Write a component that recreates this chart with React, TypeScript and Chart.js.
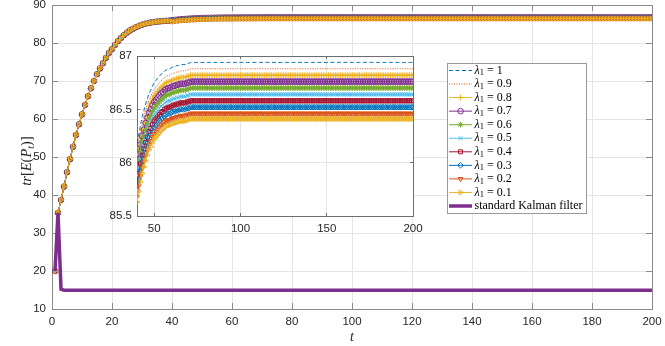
import React, { useEffect, useRef } from 'react';
import { Chart, registerables } from 'chart.js';
import { drawPoint } from 'chart.js/helpers';

Chart.register(...registerables);

// ---------------- data ----------------
const T: number[] = Array.from({ length: 200 }, (_, i) => i + 1);

const LAMBDA_LABELS = ['1', '0.9', '0.8', '0.7', '0.6', '0.5', '0.4', '0.3', '0.2', '0.1'];

// t = 1..39 : all lambda curves coincide at this scale
const SHARED_EARLY = [
  20.0, 35.3, 38.7, 42.2, 46.0, 49.4, 52.7, 55.8, 58.6, 61.2,
  63.7, 66.0, 68.1, 70.0, 71.8, 73.3, 74.7, 76.1, 77.4, 78.4,
  79.5, 80.5, 81.35, 82.1, 82.75, 83.3, 83.75, 84.15, 84.5, 84.8,
  85.05, 85.25, 85.4, 85.52, 85.62, 85.7, 85.77, 85.83, 85.88,
];

// t = 40..70 for each lambda
const TAIL_L10 = [86.16, 86.26, 86.35, 86.43, 86.49, 86.55, 86.60, 86.65, 86.68, 86.72, 86.75, 86.77, 86.79, 86.81, 86.83, 86.84, 86.86, 86.87, 86.88, 86.88, 86.89, 86.90, 86.90, 86.91, 86.91, 86.92, 86.92, 86.92, 86.92, 86.93, 86.93];
const TAIL_L09 = [86.10, 86.20, 86.29, 86.37, 86.43, 86.49, 86.54, 86.59, 86.62, 86.66, 86.69, 86.71, 86.73, 86.75, 86.77, 86.78, 86.80, 86.81, 86.82, 86.82, 86.83, 86.84, 86.84, 86.85, 86.85, 86.86, 86.86, 86.86, 86.86, 86.87, 86.87];
const TAIL_L08 = [86.04, 86.14, 86.23, 86.31, 86.37, 86.43, 86.48, 86.53, 86.56, 86.60, 86.63, 86.65, 86.67, 86.69, 86.71, 86.72, 86.74, 86.75, 86.76, 86.76, 86.77, 86.78, 86.78, 86.79, 86.79, 86.80, 86.80, 86.80, 86.80, 86.81, 86.81];
const TAIL_L07 = [85.98, 86.08, 86.17, 86.25, 86.31, 86.37, 86.42, 86.47, 86.50, 86.54, 86.57, 86.59, 86.61, 86.63, 86.65, 86.66, 86.68, 86.69, 86.70, 86.70, 86.71, 86.72, 86.72, 86.73, 86.73, 86.74, 86.74, 86.74, 86.74, 86.75, 86.75];
const TAIL_L06 = [85.92, 86.02, 86.11, 86.19, 86.25, 86.31, 86.36, 86.41, 86.44, 86.48, 86.51, 86.53, 86.55, 86.57, 86.59, 86.60, 86.62, 86.63, 86.64, 86.64, 86.65, 86.66, 86.66, 86.67, 86.67, 86.68, 86.68, 86.68, 86.68, 86.69, 86.69];
const TAIL_L05 = [85.86, 85.96, 86.05, 86.13, 86.19, 86.25, 86.30, 86.35, 86.38, 86.42, 86.45, 86.47, 86.49, 86.51, 86.53, 86.54, 86.56, 86.57, 86.58, 86.58, 86.59, 86.60, 86.60, 86.61, 86.61, 86.62, 86.62, 86.62, 86.62, 86.63, 86.63];
const TAIL_L04 = [85.80, 85.90, 85.99, 86.07, 86.13, 86.19, 86.24, 86.29, 86.32, 86.36, 86.39, 86.41, 86.43, 86.45, 86.47, 86.48, 86.50, 86.51, 86.52, 86.52, 86.53, 86.54, 86.54, 86.55, 86.55, 86.56, 86.56, 86.56, 86.56, 86.57, 86.57];
const TAIL_L03 = [85.74, 85.84, 85.93, 86.01, 86.07, 86.13, 86.18, 86.23, 86.26, 86.30, 86.33, 86.35, 86.37, 86.39, 86.41, 86.42, 86.44, 86.45, 86.46, 86.46, 86.47, 86.48, 86.48, 86.49, 86.49, 86.50, 86.50, 86.50, 86.50, 86.51, 86.51];
const TAIL_L02 = [85.68, 85.78, 85.87, 85.95, 86.01, 86.07, 86.12, 86.17, 86.20, 86.24, 86.27, 86.29, 86.31, 86.33, 86.35, 86.36, 86.38, 86.39, 86.40, 86.40, 86.41, 86.42, 86.42, 86.43, 86.43, 86.44, 86.44, 86.44, 86.44, 86.45, 86.45];
const TAIL_L01 = [85.63, 85.73, 85.82, 85.90, 85.96, 86.02, 86.07, 86.12, 86.15, 86.19, 86.22, 86.24, 86.26, 86.28, 86.30, 86.31, 86.33, 86.34, 86.35, 86.35, 86.36, 86.37, 86.37, 86.38, 86.38, 86.39, 86.39, 86.39, 86.39, 86.40, 86.40];

// flat steady-state level (t = 71..200)
const STEADY = [86.94, 86.88, 86.82, 86.76, 86.70, 86.64, 86.58, 86.52, 86.46, 86.41];

const KALMAN_EARLY = [20.0, 35.3, 15.2];
const KALMAN_STEADY = 14.95;

const X_TICKS = [0, 20, 40, 60, 80, 100, 120, 140, 160, 180, 200];
const Y_TICKS = [10, 20, 30, 40, 50, 60, 70, 80, 90];
const INSET_X_TICKS = [50, 100, 150, 200];
const INSET_Y_TICKS = [85.5, 86, 86.5, 87];

// ---------------- styles ----------------
const TAILS = [TAIL_L10, TAIL_L09, TAIL_L08, TAIL_L07, TAIL_L06, TAIL_L05, TAIL_L04, TAIL_L03, TAIL_L02, TAIL_L01];

type Sty = { color: string; dash?: number[]; point?: string; rot?: number };
const STYLES: Sty[] = [
  { color: '#0072BD', dash: [4, 2.5] },
  { color: '#D95319', dash: [1, 1.5] },
  { color: '#EDB120', point: 'cross' },
  { color: '#7E2F8E', point: 'circle' },
  { color: '#77AC30', point: 'star' },
  { color: '#4DBEEE', point: 'crossRot' },
  { color: '#A2142F', point: 'rect' },
  { color: '#0072BD', point: 'rectRot' },
  { color: '#D95319', point: 'triangle', rot: 180 },
  { color: '#EDB120', point: 'triangle', rot: 90 },
];
const KALMAN_COLOR = '#7E2F8E';
const POINT_R = 2.8;

const TICK_FONT = { family: 'Arial, "Liberation Sans", Helvetica, sans-serif', size: 11.5 };
const SERIF = '"Liberation Serif", "Times New Roman", serif';

function lambdaSeries(k: number) {
  const vals: number[] = [...SHARED_EARLY, ...TAILS[k]];
  while (vals.length < T.length) vals.push(STEADY[k]);
  return T.map((t, i) => ({ x: t, y: vals[i] }));
}
function kalmanSeries() {
  const vals: number[] = [...KALMAN_EARLY];
  while (vals.length < T.length) vals.push(KALMAN_STEADY);
  return T.map((t, i) => ({ x: t, y: vals[i] }));
}

function lambdaDatasets() {
  const out: any[] = [];
  for (let k = LAMBDA_LABELS.length - 1; k >= 0; k--) {
    const s = STYLES[k];
    out.push({
      label: 'lambda=' + LAMBDA_LABELS[k],
      data: lambdaSeries(k),
      borderColor: s.color,
      borderWidth: 1,
      borderDash: s.dash || [],
      pointStyle: s.point || false,
      pointRadius: s.point ? POINT_R : 0,
      pointRotation: s.rot || 0,
      pointBorderColor: s.color,
      pointBackgroundColor: 'rgba(0,0,0,0)',
      pointBorderWidth: 1,
      tension: 0,
      fill: false,
    });
  }
  return out;
}

const align = (p: number) => Math.round(p - 0.5) + 0.5;

const framePlugin = {
  id: 'frame',
  beforeDraw(chart: any, _a: any, opts: any) {
    if (opts && opts.bg) {
      const { ctx, chartArea: ca } = chart;
      ctx.save();
      ctx.fillStyle = opts.bg;
      ctx.fillRect(ca.left, ca.top, ca.right - ca.left, ca.bottom - ca.top);
      ctx.restore();
    }
  },
  beforeDatasetsDraw(chart: any, _a: any, opts: any) {
    const { ctx, chartArea: ca } = chart;
    const xs = chart.scales.x, ys = chart.scales.y;
    const L = opts.len;
    ctx.save();
    ctx.strokeStyle = opts.color;
    ctx.lineWidth = 1;
    ctx.beginPath();
    xs.ticks.forEach((t: any) => {
      const p = align(xs.getPixelForValue(t.value));
      ctx.moveTo(p, ca.bottom); ctx.lineTo(p, ca.bottom - L);
      ctx.moveTo(p, ca.top); ctx.lineTo(p, ca.top + L);
    });
    ys.ticks.forEach((t: any) => {
      const p = align(ys.getPixelForValue(t.value));
      ctx.moveTo(ca.left, p); ctx.lineTo(ca.left + L, p);
      ctx.moveTo(ca.right, p); ctx.lineTo(ca.right - L, p);
    });
    ctx.stroke();
    const l = align(ca.left), r = align(ca.right), tp = align(ca.top), b = align(ca.bottom);
    ctx.strokeRect(l, tp, r - l, b - tp);
    ctx.restore();
  },
};

type Run = [string, string, number?];
function runsWidth(ctx: CanvasRenderingContext2D, runs: Run[]) {
  let w = 0;
  for (const r of runs) { ctx.font = r[1]; w += ctx.measureText(r[0]).width; }
  return w;
}
function drawRuns(ctx: CanvasRenderingContext2D, runs: Run[], x: number, y: number) {
  for (const r of runs) {
    ctx.font = r[1];
    ctx.fillText(r[0], x, y + (r[2] || 0));
    x += ctx.measureText(r[0]).width;
  }
}

const decoPlugin = {
  id: 'deco',
  afterDraw(chart: any) {
    const ctx: CanvasRenderingContext2D = chart.ctx;
    ctx.save();
    ctx.fillStyle = '#262626';
    ctx.textBaseline = 'middle';
    // x title
    const xr: Run[] = [['t', 'italic 14px ' + SERIF]];
    drawRuns(ctx, xr, 352 - runsWidth(ctx, xr) / 2, 337);
    // y title
    const it = 'italic 14.5px ' + SERIF, up = '14.5px ' + SERIF;
    const yr: Run[] = [['tr', it], ['[', up], ['E', it], ['(', up], ['P', it], ['t', 'italic 10px ' + SERIF, 3.5], [')', up], [']', up]];
    ctx.save();
    ctx.translate(27.5, 161);
    ctx.rotate(-Math.PI / 2);
    drawRuns(ctx, yr, -runsWidth(ctx, yr) / 2, 0);
    ctx.restore();

    // legend
    const bx = 447.5, by = 63.5, bw = 139, bh = 150;
    ctx.fillStyle = '#ffffff';
    ctx.fillRect(bx, by, bw, bh);
    ctx.strokeStyle = '#9a9a9a';
    ctx.lineWidth = 1;
    ctx.strokeRect(bx, by, bw, bh);
    const y0 = 70.5, dy = 13.55, x1 = 449, x2 = 472, tx = 474.5;
    for (let k = 0; k < LAMBDA_LABELS.length; k++) {
      const s = STYLES[k];
      const y = y0 + k * dy;
      ctx.strokeStyle = s.color;
      ctx.lineWidth = 1;
      ctx.setLineDash(s.dash || []);
      ctx.beginPath(); ctx.moveTo(x1, y); ctx.lineTo(x2, y); ctx.stroke();
      ctx.setLineDash([]);
      if (s.point) {
        ctx.fillStyle = 'rgba(0,0,0,0)';
        drawPoint(ctx, { pointStyle: s.point as any, radius: POINT_R, rotation: s.rot || 0, borderWidth: 1 } as any, (x1 + x2) / 2, y);
      }
      ctx.fillStyle = '#000';
      drawRuns(ctx, [['λ', 'italic 12px ' + SERIF], ['1', '8.5px ' + SERIF, 2.5], [' = ' + LAMBDA_LABELS[k], '12px ' + SERIF]], tx, y);
    }
    const yk = y0 + 10 * dy;
    ctx.strokeStyle = KALMAN_COLOR;
    ctx.lineWidth = 3.5;
    ctx.beginPath(); ctx.moveTo(x1, yk); ctx.lineTo(x2, yk); ctx.stroke();
    ctx.fillStyle = '#000';
    drawRuns(ctx, [['standard Kalman filter', '12px ' + SERIF]], tx, yk);
    ctx.restore();
  },
};

function scaleOpts(min: number, max: number, ticks: number[], isX: boolean, size: number, pad: number) {
  return {
    type: 'linear',
    min, max,
    afterBuildTicks: (s: any) => { s.ticks = ticks.map((v) => ({ value: v })); },
    afterFit: (s: any) => {
      if (isX) s.height = size; else s.width = size;
      s.paddingLeft = 0; s.paddingRight = 0; s.paddingTop = 0; s.paddingBottom = 0;
    },
    grid: { color: '#e4e4e4', lineWidth: 1, drawTicks: false },
    border: { display: false },
    ticks: {
      font: TICK_FONT, color: '#262626', padding: pad, maxRotation: 0, autoSkip: false,
      callback: (v: any) => String(v),
    },
  };
}

export default function App() {
  const mainRef = useRef<HTMLCanvasElement>(null);
  const insetRef = useRef<HTMLCanvasElement>(null);

  useEffect(() => {
    const mainDatasets = [
      {
        label: 'standard Kalman filter',
        data: kalmanSeries(),
        borderColor: KALMAN_COLOR,
        borderWidth: 3.5,
        pointRadius: 0,
        pointStyle: false,
        tension: 0,
        fill: false,
      },
      ...lambdaDatasets(),
    ];
    const main = new Chart(mainRef.current as HTMLCanvasElement, {
      type: 'line',
      data: { datasets: mainDatasets as any },
      plugins: [framePlugin, decoPlugin] as any,
      options: {
        animation: false,
        responsive: false,
        events: [],
        layout: { padding: { left: 0, right: 13, top: 5, bottom: 0 } },
        plugins: {
          legend: { display: false },
          tooltip: { enabled: false },
          frame: { len: 6, color: '#8a8a8a' },
        } as any,
        scales: {
          x: scaleOpts(0, 200, X_TICKS, true, 37, 6) as any,
          y: scaleOpts(10, 90, Y_TICKS, false, 52, 6) as any,
        },
      },
    });

    const inset = new Chart(insetRef.current as HTMLCanvasElement, {
      type: 'line',
      data: { datasets: lambdaDatasets() as any },
      plugins: [framePlugin] as any,
      options: {
        animation: false,
        responsive: false,
        events: [],
        layout: { padding: { left: 0, right: 16, top: 16, bottom: 0 } },
        plugins: {
          legend: { display: false },
          tooltip: { enabled: false },
          frame: { len: 3, color: '#6e6e6e', bg: '#ffffff' },
        } as any,
        scales: {
          x: scaleOpts(40, 200, INSET_X_TICKS, true, 29, 6) as any,
          y: scaleOpts(85.5, 87, INSET_Y_TICKS, false, 60, 5) as any,
        },
      },
    });

    return () => { main.destroy(); inset.destroy(); };
  }, []);

  return (
    <div style={{ position: 'fixed', left: 0, top: 0, width: 665, height: 346, background: '#ffffff', overflow: 'hidden' }}>
      <canvas ref={mainRef} width={665} height={346} style={{ position: 'absolute', left: 0, top: 0, width: 665, height: 346 }} />
      <canvas ref={insetRef} width={352} height={205} style={{ position: 'absolute', left: 77, top: 40, width: 352, height: 205 }} />
    </div>
  );
}
